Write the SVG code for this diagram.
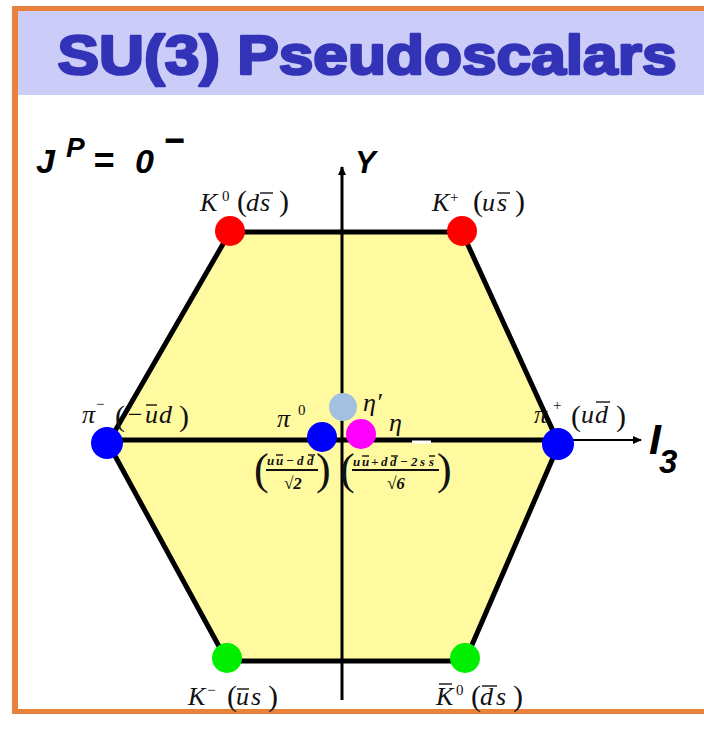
<svg xmlns="http://www.w3.org/2000/svg" width="704" height="742" viewBox="0 0 704 742">
<style>
.lab{font-family:"Liberation Serif","Times New Roman",serif;font-style:italic;font-size:26px;fill:#111}
.sup{font-size:15px;font-style:normal}
.par{font-style:normal;font-size:30px}
.bigpar{font-family:"Liberation Serif","Times New Roman",serif;font-size:44px;fill:#111}
.ax{font-family:"Liberation Sans",Arial,sans-serif;font-style:italic;font-weight:bold;fill:#000}
.frac{font-family:"Liberation Serif","Times New Roman",serif;font-style:italic;font-weight:bold;font-size:13px;fill:#111}
.den{font-family:"Liberation Serif","Times New Roman",serif;font-style:italic;font-weight:bold;font-size:17px;fill:#111}
.ol{stroke:#111;stroke-width:1.4}
.olb{stroke:#111;stroke-width:1.8}
</style>
<defs>
<marker id="arr" markerWidth="9" markerHeight="8" refX="8" refY="4" orient="auto" markerUnits="userSpaceOnUse">
<path d="M0,0 L9,4 L0,8 Z" fill="#000"/>
</marker>
</defs>
<rect width="704" height="742" fill="#fff"/>
<!-- frame and title -->
<rect x="18" y="10" width="686" height="85" fill="#ccccf8"/>
<rect x="12" y="6" width="692" height="5" fill="#e8823a"/>
<rect x="12" y="6" width="6" height="708" fill="#e8823a"/>
<rect x="12" y="709" width="692" height="5" fill="#e8823a"/>
<text x="367" y="74" text-anchor="middle" font-family="Liberation Sans,Arial,sans-serif" font-weight="bold" font-size="56" fill="#3333b8" stroke="#3333b8" stroke-width="2.6" stroke-linejoin="round" textLength="619" lengthAdjust="spacingAndGlyphs">SU(3) Pseudoscalars</text>
<g id="jp">
<text class="ax" font-size="34"><tspan x="36" y="173">J</tspan><tspan x="66" y="157" font-size="28">P</tspan><tspan x="93" y="173" font-size="36">=</tspan><tspan x="135" y="173">0</tspan><tspan x="164" y="152" font-size="34" stroke="#000" stroke-width="0.8">−</tspan></text>
</g>
<g id="hexagon">
<polygon points="230,232 462,232 559,444 465,661 227,661 108,443" fill="#fffaa0" stroke="#000" stroke-width="5" stroke-linejoin="round"/>
</g>
<g id="connectors">
<line x1="342" y1="700" x2="342" y2="167" stroke="#000" stroke-width="3" marker-end="url(#arr)"/>
<line x1="108" y1="440" x2="560" y2="440" stroke="#000" stroke-width="5"/>
<line x1="556" y1="440" x2="641" y2="440" stroke="#000" stroke-width="2" marker-end="url(#arr)"/>
<rect x="412" y="440.5" width="19" height="3" fill="#fff"/>
</g>
<g id="axis-labels">
<text class="ax" x="355" y="173" font-size="31">Y</text>
<text class="ax" font-size="43"><tspan x="649" y="454">I</tspan><tspan x="659" y="473" font-size="33">3</tspan></text>
</g>
<g id="K0">
<circle cx="230" cy="231" r="15" fill="#ff0000"/>
<text class="lab" y="211"><tspan x="200">K</tspan><tspan class="sup" x="222" y="201">0</tspan><tspan class="par" x="237" y="211">(</tspan><tspan x="246">d</tspan><tspan x="260">s</tspan><tspan class="par" x="279">)</tspan></text>
<line class="ol" x1="260" y1="193" x2="273" y2="193"/>
</g>
<g id="Kplus">
<circle cx="462" cy="231" r="15" fill="#ff0000"/>
<text class="lab" y="211"><tspan x="432">K</tspan><tspan class="sup" x="450" y="202">+</tspan><tspan class="par" x="473" y="211">(</tspan><tspan x="482">u</tspan><tspan x="497">s</tspan><tspan class="par" x="515">)</tspan></text>
<line class="ol" x1="497" y1="193" x2="510" y2="193"/>
</g>
<g id="piminus">
<circle cx="107" cy="443" r="16" fill="#0000ff"/>
<text class="lab" y="423"><tspan x="82">π</tspan><tspan class="sup" x="96" y="409">−</tspan><tspan class="par" x="115" y="426" font-size="36">(</tspan><tspan x="126" y="423">−</tspan><tspan x="145">u</tspan><tspan x="159">d</tspan><tspan class="par" x="179" y="426" font-size="36">)</tspan></text>
<line class="ol" x1="146" y1="405" x2="157" y2="405"/>
</g>
<g id="piplus">
<circle cx="558" cy="444" r="16" fill="#0000ff"/>
<text class="lab" y="423"><tspan x="534">π</tspan><tspan class="sup" x="553" y="410">+</tspan><tspan class="par" x="571" y="426" font-size="36">(</tspan><tspan x="581" y="423">u</tspan><tspan x="595">d</tspan><tspan class="par" x="616" y="426" font-size="36">)</tspan></text>
<line class="ol" x1="596" y1="402" x2="610" y2="402"/>
</g>
<g id="etaprime">
<circle cx="343" cy="407" r="14" fill="#a4c0e0"/>
<text class="lab" x="363" y="411" font-size="27">η′</text>
</g>
<g id="pi0">
<circle cx="322" cy="437" r="15" fill="#0000ff"/>
<text class="lab" y="427"><tspan x="277">π</tspan><tspan class="sup" x="298" y="415">0</tspan></text>
<text class="bigpar" x="254" y="484">(</text>
<text class="frac" x="267 276 286 297 307" y="465">uu−dd</text>
<line class="ol" x1="276" y1="455" x2="283" y2="455"/>
<line class="ol" x1="308" y1="455" x2="315" y2="455"/>
<line class="olb" x1="266" y1="470" x2="318" y2="470"/>
<text class="den" x="284" y="489">√2</text>
<text class="bigpar" x="316" y="484">)</text>
</g>
<g id="eta">
<circle cx="361" cy="434" r="15" fill="#ff00ff"/>
<text class="lab" x="389" y="431" font-size="27">η</text>
<text class="bigpar" x="340" y="484">(</text>
<text class="frac" x="353 362 371 381 390 400 411 420 429" y="466">uu+dd−2ss</text>
<line class="ol" x1="362" y1="456" x2="369" y2="456"/>
<line class="ol" x1="391" y1="456" x2="398" y2="456"/>
<line class="ol" x1="429" y1="456" x2="435" y2="456"/>
<line class="olb" x1="352" y1="470" x2="439" y2="470"/>
<text class="den" x="387" y="489">√6</text>
<text class="bigpar" x="437" y="484">)</text>
</g>
<g id="Kminus">
<circle cx="227" cy="658" r="15" fill="#00ee00"/>
<text class="lab" y="705"><tspan x="188">K</tspan><tspan class="sup" x="207" y="695">−</tspan><tspan class="par" x="227" y="706">(</tspan><tspan x="236" y="705">u</tspan><tspan x="251">s</tspan><tspan class="par" x="268" y="706">)</tspan></text>
<line class="ol" x1="237" y1="689" x2="249" y2="689"/>
</g>
<g id="K0bar">
<circle cx="465" cy="658" r="15" fill="#00ee00"/>
<text class="lab" y="705"><tspan x="436">K</tspan><tspan class="sup" x="456" y="695" font-style="italic">0</tspan><tspan class="par" x="471" y="706">(</tspan><tspan x="480" y="705">d</tspan><tspan x="496">s</tspan><tspan class="par" x="513" y="706">)</tspan></text>
<line class="ol" x1="439" y1="684" x2="452" y2="684"/>
<line class="ol" x1="482" y1="686" x2="497" y2="686"/>
</g>
</svg>
